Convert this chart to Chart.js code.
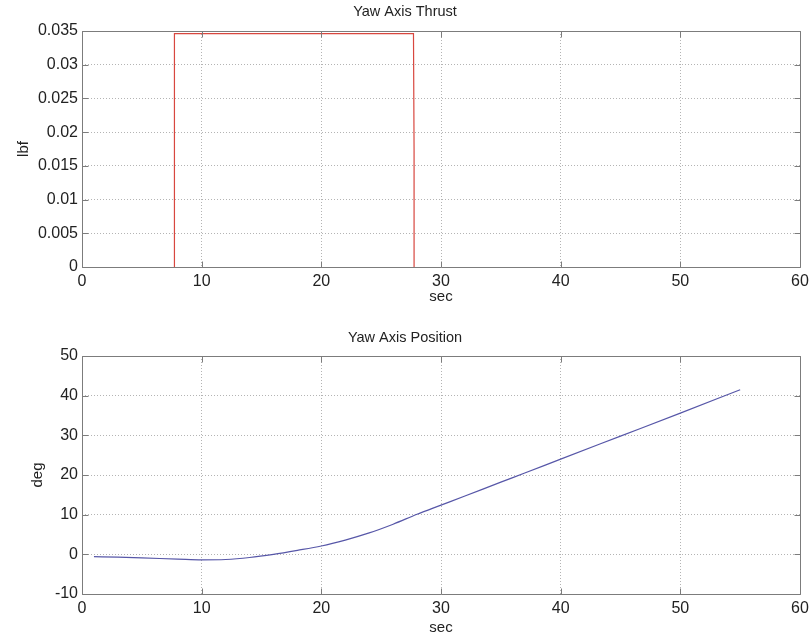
<!DOCTYPE html>
<html>
<head>
<meta charset="utf-8">
<script src="https://cdn.jsdelivr.net/npm/chart.js@4.4.1/dist/chart.umd.min.js"></script>
<style>
  html, body { margin: 0; padding: 0; background: #fff; }
  .plot { position: absolute; left: 0; width: 810px; height: 319px; }
</style>
</head>
<body>
<div class="plot" style="top:0"><canvas id="thrustChart"></canvas></div>
<div class="plot" style="top:319px"><canvas id="positionChart"></canvas></div>
<script>
const timeTicks = [0, 10, 20, 30, 40, 50, 60];
const thrustTicks = [0, 0.005, 0.01, 0.015, 0.02, 0.025, 0.03, 0.035];
const positionTicks = [-10, 0, 10, 20, 30, 40, 50];

// thruster on/off pulse (lbf vs sec)
const thrustTime = [7.7, 7.7, 7.75, 27.7, 27.75, 27.75];
const thrustLbf = [0, 0.0173, 0.0346, 0.0346, 0.0173, 0];

// yaw angle (deg vs sec)
const positionTime = [1, 3, 5, 8, 10, 12, 14, 16, 18, 20, 22, 24, 26, 28, 30, 32, 35, 37, 40, 45, 50, 55];
const positionDeg = [-0.6, -0.7, -0.9, -1.2, -1.4, -1.3, -0.8, 0.0, 1.0, 2.1, 3.6, 5.4, 7.6, 10.1, 12.4, 14.7, 18.2, 20.5, 24.0, 29.8, 35.6, 41.5];

const FONT = "'Liberation Sans', Arial, Helvetica, sans-serif";
const TEXT = '#222';

Chart.defaults.font.family = FONT;
Chart.defaults.color = TEXT;

// MATLAB style box with inward ticks on all four sides
const matlabBox = {
    id: 'matlabBox',
    afterDatasetsDraw(chart) {
        const { ctx, chartArea: a, scales: { x, y } } = chart;
        const l = Math.round(a.left) + 0.5, r = Math.round(a.right) + 0.5;
        const t = Math.round(a.top) + 0.5, b = Math.round(a.bottom) + 0.5;
        ctx.save();
        ctx.setLineDash([]);
        ctx.strokeStyle = '#7c7c7c';
        ctx.lineWidth = 1;
        ctx.beginPath();
        ctx.rect(l, t, r - l, b - t);
        x.ticks.forEach(tk => {
            const px = Math.round(x.getPixelForValue(tk.value)) + 0.5;
            ctx.moveTo(px, b); ctx.lineTo(px, b - 6);
            ctx.moveTo(px, t); ctx.lineTo(px, t + 6);
        });
        y.ticks.forEach(tk => {
            const py = Math.round(y.getPixelForValue(tk.value)) + 0.5;
            ctx.moveTo(l, py); ctx.lineTo(l + 6, py);
            ctx.moveTo(r, py); ctx.lineTo(r - 6, py);
        });
        ctx.stroke();
        ctx.restore();
    }
};

function makeChart(id, opts) {
    const points = opts.xs.map((v, i) => ({ x: v, y: opts.ys[i] }));
    return new Chart(document.getElementById(id), {
        type: 'line',
        data: {
            datasets: [{
                data: points,
                borderColor: opts.color,
                borderWidth: 1.2,
                pointRadius: 0,
                fill: false,
                cubicInterpolationMode: opts.smooth ? 'monotone' : 'default',
                tension: 0
            }]
        },
        options: {
            responsive: true,
            maintainAspectRatio: false,
            animation: false,
            events: [],
            layout: { padding: 0 },
            plugins: {
                legend: { display: false },
                tooltip: { enabled: false },
                title: {
                    display: true,
                    text: opts.title,
                    color: TEXT,
                    font: { size: 14.5, weight: 'normal' },
                    padding: opts.titlePad
                }
            },
            scales: {
                x: {
                    type: 'linear',
                    min: 0,
                    max: 60,
                    afterBuildTicks: s => { s.ticks = timeTicks.map(v => ({ value: v })); },
                    afterFit: s => { s.height = opts.xHeight; s.paddingRight = 10; s.paddingLeft = 0; },
                    ticks: { color: TEXT, font: { size: 16 }, padding: 5, maxRotation: 0, callback: v => String(v) },
                    grid: { color: '#b4b4b4', lineWidth: 1, drawTicks: false },
                    border: { display: false, dash: [1, 2] },
                    title: {
                        display: true, text: 'sec', color: TEXT,
                        font: { size: 15 }, padding: { top: 0, bottom: opts.secPad }
                    }
                },
                y: {
                    type: 'linear',
                    min: opts.yTicks[0],
                    max: opts.yTicks[opts.yTicks.length - 1],
                    afterBuildTicks: s => { s.ticks = opts.yTicks.map(v => ({ value: v })); },
                    afterFit: s => { s.width = 82; },
                    ticks: { color: TEXT, font: { size: 16 }, padding: 4, callback: v => String(v) },
                    grid: { color: '#b4b4b4', lineWidth: 1, drawTicks: false },
                    border: { display: false, dash: [1, 2] },
                    title: {
                        display: true, text: opts.yLabel, color: TEXT,
                        font: { size: 15 }, padding: { top: opts.yLabelPad, bottom: 0 }
                    }
                }
            }
        },
        plugins: [matlabBox]
    });
}

makeChart('thrustChart', {
    title: 'Yaw Axis Thrust',
    titlePad: { top: 3.3, bottom: 10.3 },
    xs: thrustTime,
    ys: thrustLbf,
    color: '#d8473f',
    smooth: false,
    yTicks: thrustTicks,
    yLabel: 'lbf',
    yLabelPad: 14.5,
    xHeight: 52,
    secPad: 13.3
});

makeChart('positionChart', {
    title: 'Yaw Axis Position',
    titlePad: { top: 10.3, bottom: 9.3 },
    xs: positionTime,
    ys: positionDeg,
    color: '#5757a8',
    smooth: true,
    yTicks: positionTicks,
    yLabel: 'deg',
    yLabelPad: 29.3,
    xHeight: 44,
    secPad: 0.7
});
</script>
</body>
</html>
